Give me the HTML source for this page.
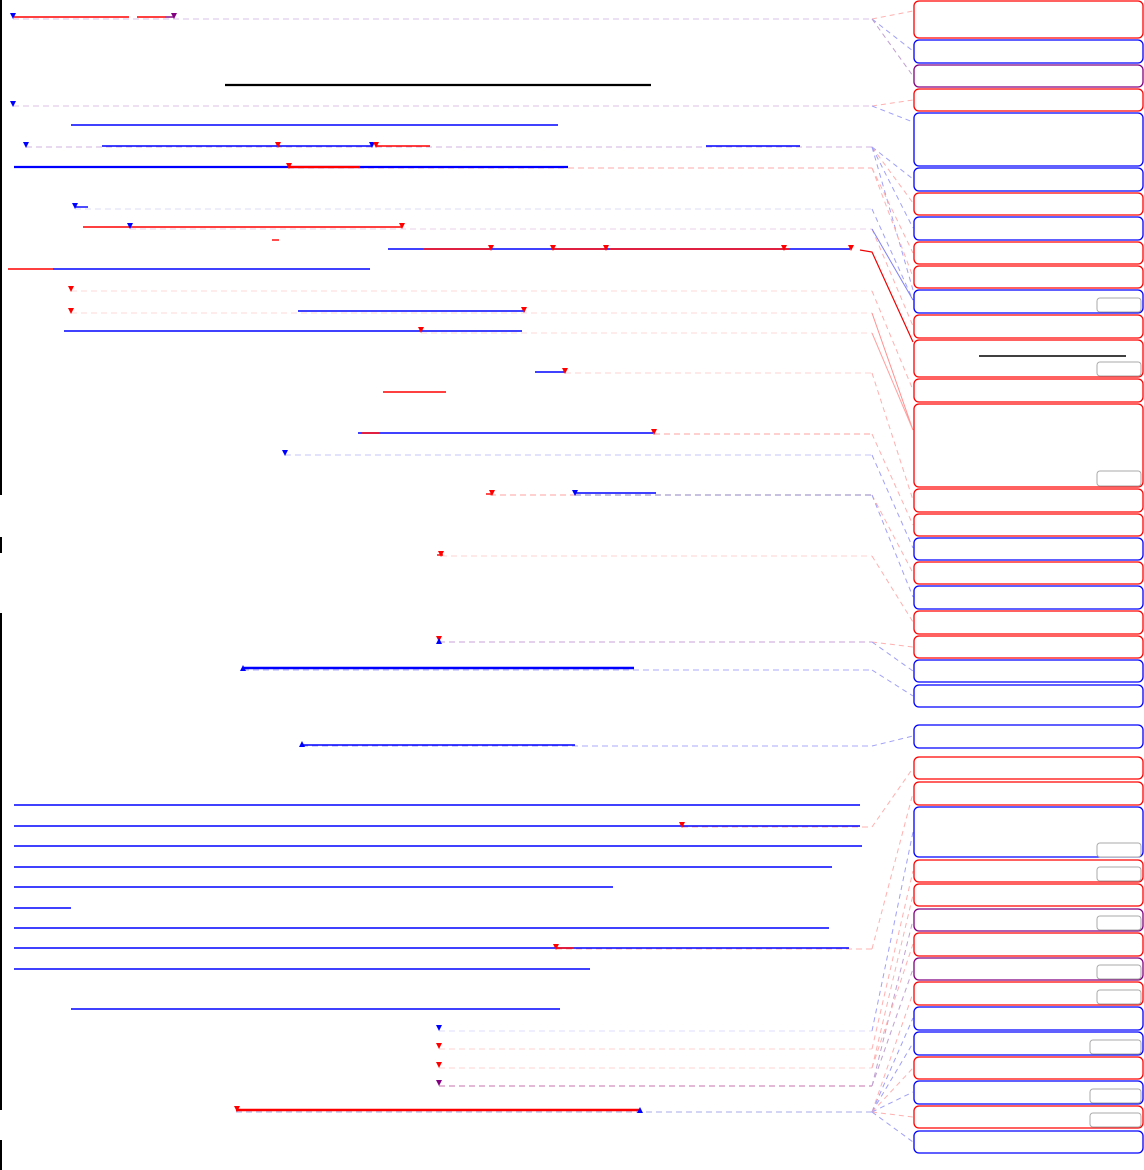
<!DOCTYPE html>
<html><head><meta charset="utf-8"><style>
html,body{margin:0;padding:0;background:#fff;}
svg{display:block;}
</style></head><body>
<svg width="1144" height="1170" viewBox="0 0 1144 1170" xmlns="http://www.w3.org/2000/svg">
<defs>
<path id="mk" d="M-3,-3 L3,-3 L0,3 Z"/>
<path id="mu" d="M-3,3 L3,3 L0,-3 Z"/>
</defs>
<g stroke="#000" stroke-width="2">
<line x1="1" y1="0" x2="1" y2="495"/><line x1="1" y1="537" x2="1" y2="553"/>
<line x1="1" y1="613" x2="1" y2="1110"/><line x1="1" y1="1140" x2="1" y2="1170"/>
</g>
<g fill="none" stroke-width="1" stroke-dasharray="6,4">
<line x1="13" y1="19" x2="872" y2="19" stroke="#d8c0e8"/>
<line x1="13" y1="106" x2="872" y2="106" stroke="#dcc0e4"/>
<line x1="26" y1="147" x2="872" y2="147" stroke="#d0b0e0"/>
<line x1="288" y1="168" x2="872" y2="168" stroke="#ffa8a8"/>
<line x1="75" y1="209" x2="872" y2="209" stroke="#dcdcf4"/>
<line x1="130" y1="229" x2="872" y2="229" stroke="#e8d0e8"/>
<line x1="71" y1="291" x2="872" y2="291" stroke="#fcd8d8"/>
<line x1="71" y1="313" x2="872" y2="313" stroke="#fcd8d8"/>
<line x1="421" y1="333" x2="872" y2="333" stroke="#fcd8d8"/>
<line x1="565" y1="373" x2="872" y2="373" stroke="#fcd0d0"/>
<line x1="654" y1="434" x2="872" y2="434" stroke="#ffa0a0"/>
<line x1="285" y1="455" x2="872" y2="455" stroke="#d8d8fc" stroke-width="1.5"/>
<line x1="490" y1="495" x2="575" y2="495" stroke="#ffa0a0"/>
<line x1="575" y1="495" x2="872" y2="495" stroke="#9080c0"/>
<line x1="441" y1="556" x2="872" y2="556" stroke="#fcd0d0"/>
<line x1="439" y1="642" x2="872" y2="642" stroke="#c8a0d8"/>
<line x1="243" y1="670" x2="872" y2="670" stroke="#a8a8f8"/>
<line x1="302" y1="746" x2="872" y2="746" stroke="#a8a8f8"/>
<line x1="682" y1="827" x2="872" y2="827" stroke="#ffb0b0"/>
<line x1="556" y1="949" x2="872" y2="949" stroke="#ffb0b0"/>
<line x1="439" y1="1031" x2="872" y2="1031" stroke="#dcdcfc"/>
<line x1="439" y1="1049" x2="872" y2="1049" stroke="#fcd0d0"/>
<line x1="439" y1="1068" x2="872" y2="1068" stroke="#fcd0d0"/>
<line x1="439" y1="1086" x2="872" y2="1086" stroke="#d8a0c8" stroke-width="1.5"/>
<line x1="236" y1="1112" x2="872" y2="1112" stroke="#a8a8e8"/>
</g>
<g fill="none" stroke-width="1" stroke-dasharray="5,4">
<path d="M872,19 L913,11" stroke="#ffb0b0"/>
<path d="M872,19 L913,51" stroke="#a0a0f8"/>
<path d="M872,19 L913,76" stroke="#c0a0d0"/>
<path d="M872,106 L913,100" stroke="#ffb0b0"/>
<path d="M872,106 L913,122" stroke="#a0a0f8"/>
<path d="M872,147 L913,179" stroke="#a0a0f8"/>
<path d="M872,147 L913,203" stroke="#ffb0b0"/>
<path d="M872,147 L913,228" stroke="#a0a0f8"/>
<path d="M872,147 L913,290" stroke="#a0a0f8"/>
<path d="M872,168 L913,253" stroke="#ffb0b0"/>
<path d="M872,168 L913,277" stroke="#ffb0b0"/>
<path d="M872,209 L913,300" stroke="#a0a0f8"/>
<path d="M872,229 L913,326" stroke="#ffb0b0"/>
<path d="M872,291 L913,390" stroke="#ffb0b0"/>
<path d="M872,373 L913,500" stroke="#ffb0b0"/>
<path d="M872,434 L913,525" stroke="#ffb0b0"/>
<path d="M872,455 L913,548" stroke="#a0a0f8"/>
<path d="M872,495 L913,573" stroke="#ffb0b0"/>
<path d="M872,495 L913,597" stroke="#a0a0f8"/>
<path d="M872,556 L913,622" stroke="#ffb0b0"/>
<path d="M872,642 L913,647" stroke="#ffb0b0"/>
<path d="M872,642 L913,671" stroke="#a0a0f8"/>
<path d="M872,670 L913,696" stroke="#a0a0f8"/>
<path d="M872,746 L913,736" stroke="#a0a0f8"/>
<path d="M872,827 L913,768" stroke="#ffb0b0"/>
<path d="M872,949 L913,793" stroke="#ffb0b0"/>
<path d="M872,1031 L913,832" stroke="#a0a0f8"/>
<path d="M872,1049 L913,871" stroke="#ffb0b0"/>
<path d="M872,1068 L913,895" stroke="#ffb0b0"/>
<path d="M872,1086 L913,920" stroke="#c0a0d0"/>
<path d="M872,1068 L913,944" stroke="#ffb0b0"/>
<path d="M872,1086 L913,969" stroke="#c0a0d0"/>
<path d="M872,1112 L913,993" stroke="#ffb0b0"/>
<path d="M872,1112 L913,1018" stroke="#a0a0f8"/>
<path d="M872,1112 L913,1043" stroke="#a0a0f8"/>
<path d="M872,1112 L913,1068" stroke="#ffb0b0"/>
<path d="M872,1112 L913,1092" stroke="#a0a0f8"/>
<path d="M872,1112 L913,1117" stroke="#ffb0b0"/>
<path d="M872,1112 L913,1142" stroke="#a0a0f8"/>
<path d="M872,313 L913,430" stroke="#ff9090" stroke-dasharray="none"/>
<path d="M872,333 L913,430" stroke="#ffa0a0" stroke-dasharray="none"/>
<path d="M872,229 L913,300" stroke="#8080f0" stroke-dasharray="none"/>
</g>
<path d="M860,250 L872,252 L913,342" fill="none" stroke="#f00000" stroke-width="1.2"/>
<g fill="none" stroke-width="1.4">
<line x1="14" y1="17" x2="129" y2="17" stroke="#f00"/>
<line x1="137" y1="17" x2="165" y2="17" stroke="#f00"/>
<line x1="165" y1="17" x2="174" y2="17" stroke="#800080"/>
<line x1="225" y1="85" x2="651" y2="85" stroke="#000" stroke-width="2.2"/>
<line x1="71" y1="125" x2="558" y2="125" stroke="#00f"/>
<line x1="102" y1="146" x2="372" y2="146" stroke="#00f"/>
<line x1="376" y1="146" x2="430" y2="146" stroke="#f00"/>
<line x1="706" y1="146" x2="800" y2="146" stroke="#00f"/>
<line x1="14" y1="167" x2="568" y2="167" stroke="#00f" stroke-width="2.2"/>
<line x1="288" y1="167" x2="360" y2="167" stroke="#f00" stroke-width="2.2"/>
<line x1="75" y1="207" x2="88" y2="207" stroke="#00f"/>
<line x1="83" y1="227" x2="402" y2="227" stroke="#f00"/>
<line x1="272" y1="240" x2="279" y2="240" stroke="#f00"/>
<line x1="388" y1="249" x2="850" y2="249" stroke="#00f"/>
<line x1="423" y1="249" x2="490" y2="249" stroke="#f00"/>
<line x1="553" y1="249" x2="606" y2="249" stroke="#f00"/>
<line x1="610" y1="249" x2="790" y2="249" stroke="#f00"/>
<line x1="8" y1="269" x2="53" y2="269" stroke="#f00"/>
<line x1="53" y1="269" x2="370" y2="269" stroke="#00f"/>
<line x1="298" y1="311" x2="525" y2="311" stroke="#00f"/>
<line x1="64" y1="331" x2="522" y2="331" stroke="#00f"/>
<line x1="535" y1="372" x2="565" y2="372" stroke="#00f"/>
<line x1="383" y1="392" x2="446" y2="392" stroke="#f00"/>
<line x1="358" y1="433" x2="653" y2="433" stroke="#00f"/>
<line x1="362" y1="433" x2="380" y2="433" stroke="#f00"/>
<line x1="575" y1="493" x2="656" y2="493" stroke="#00f"/>
<line x1="486" y1="494" x2="492" y2="494" stroke="#f00"/>
<line x1="437" y1="555" x2="443" y2="555" stroke="#f00"/>
<line x1="243" y1="668" x2="634" y2="668" stroke="#00f" stroke-width="2.4"/>
<line x1="302" y1="745" x2="575" y2="745" stroke="#00f"/>
<line x1="14" y1="805" x2="860" y2="805" stroke="#00f"/>
<line x1="14" y1="826" x2="860" y2="826" stroke="#00f"/>
<line x1="14" y1="846" x2="862" y2="846" stroke="#00f"/>
<line x1="14" y1="867" x2="832" y2="867" stroke="#00f"/>
<line x1="14" y1="887" x2="613" y2="887" stroke="#00f"/>
<line x1="14" y1="908" x2="71" y2="908" stroke="#00f"/>
<line x1="14" y1="928" x2="829" y2="928" stroke="#00f"/>
<line x1="14" y1="948" x2="849" y2="948" stroke="#00f"/>
<line x1="556" y1="948" x2="574" y2="948" stroke="#f00"/>
<line x1="14" y1="969" x2="590" y2="969" stroke="#00f"/>
<line x1="71" y1="1009" x2="560" y2="1009" stroke="#00f"/>
<line x1="236" y1="1110" x2="640" y2="1110" stroke="#f00" stroke-width="2.4"/>
</g>
<g>
<use href="#mk" x="13" y="16" fill="#00f"/><use href="#mk" x="174" y="16" fill="#800080"/>
<use href="#mk" x="13" y="104" fill="#00f"/>
<use href="#mk" x="26" y="145" fill="#00f"/><use href="#mk" x="278" y="145" fill="#f00"/>
<use href="#mk" x="372" y="145" fill="#00f"/><use href="#mk" x="376" y="145" fill="#f00"/>
<use href="#mk" x="289" y="166" fill="#f00"/>
<use href="#mk" x="75" y="206" fill="#00f"/>
<use href="#mk" x="130" y="226" fill="#00f"/><use href="#mk" x="402" y="226" fill="#f00"/>
<use href="#mk" x="491" y="248" fill="#f00"/><use href="#mk" x="553" y="248" fill="#f00"/>
<use href="#mk" x="606" y="248" fill="#f00"/><use href="#mk" x="784" y="248" fill="#f00"/>
<use href="#mk" x="851" y="248" fill="#f00"/>
<use href="#mk" x="71" y="289" fill="#f00"/><use href="#mk" x="71" y="311" fill="#f00"/>
<use href="#mk" x="524" y="310" fill="#f00"/><use href="#mk" x="421" y="330" fill="#f00"/>
<use href="#mk" x="565" y="371" fill="#f00"/><use href="#mk" x="654" y="432" fill="#f00"/>
<use href="#mk" x="285" y="453" fill="#00f"/>
<use href="#mk" x="492" y="493" fill="#f00"/><use href="#mk" x="575" y="493" fill="#00f"/>
<use href="#mk" x="441" y="554" fill="#f00"/>
<use href="#mk" x="439" y="639" fill="#f00"/><use href="#mu" x="439" y="641" fill="#00f"/>
<use href="#mu" x="243" y="668" fill="#00f"/><use href="#mu" x="302" y="744" fill="#00f"/>
<use href="#mk" x="682" y="825" fill="#f00"/><use href="#mk" x="556" y="947" fill="#f00"/>
<use href="#mk" x="439" y="1028" fill="#00f"/><use href="#mk" x="439" y="1046" fill="#f00"/>
<use href="#mk" x="439" y="1065" fill="#f00"/><use href="#mk" x="439" y="1083" fill="#800080"/>
<use href="#mk" x="237" y="1109" fill="#f00"/><use href="#mu" x="640" y="1110" fill="#00f"/>
</g>
<g fill="#fff" stroke-width="1.3">
<rect x="914" y="1" width="229" height="37" rx="5" stroke="#f00"/>
<rect x="914" y="40" width="229" height="23" rx="5" stroke="#00f"/>
<rect x="914" y="65" width="229" height="22" rx="5" stroke="#800080"/>
<rect x="914" y="89" width="229" height="22" rx="5" stroke="#f00"/>
<rect x="914" y="113" width="229" height="53" rx="5" stroke="#00f"/>
<rect x="914" y="168" width="229" height="23" rx="5" stroke="#00f"/>
<rect x="914" y="193" width="229" height="22" rx="5" stroke="#f00"/>
<rect x="914" y="217" width="229" height="23" rx="5" stroke="#00f"/>
<rect x="914" y="242" width="229" height="22" rx="5" stroke="#f00"/>
<rect x="914" y="266" width="229" height="22" rx="5" stroke="#f00"/>
<rect x="914" y="290" width="229" height="23" rx="5" stroke="#00f"/>
<rect x="914" y="315" width="229" height="23" rx="5" stroke="#f00"/>
<rect x="914" y="340" width="229" height="37" rx="5" stroke="#f00"/>
<rect x="914" y="379" width="229" height="23" rx="5" stroke="#f00"/>
<rect x="914" y="404" width="229" height="83" rx="5" stroke="#f00"/>
<rect x="914" y="489" width="229" height="23" rx="5" stroke="#f00"/>
<rect x="914" y="514" width="229" height="22" rx="5" stroke="#f00"/>
<rect x="914" y="538" width="229" height="22" rx="5" stroke="#00f"/>
<rect x="914" y="562" width="229" height="22" rx="5" stroke="#f00"/>
<rect x="914" y="586" width="229" height="23" rx="5" stroke="#00f"/>
<rect x="914" y="611" width="229" height="23" rx="5" stroke="#f00"/>
<rect x="914" y="636" width="229" height="22" rx="5" stroke="#f00"/>
<rect x="914" y="660" width="229" height="22" rx="5" stroke="#00f"/>
<rect x="914" y="685" width="229" height="22" rx="5" stroke="#00f"/>
<rect x="914" y="725" width="229" height="23" rx="5" stroke="#00f"/>
<rect x="914" y="757" width="229" height="22" rx="5" stroke="#f00"/>
<rect x="914" y="782" width="229" height="23" rx="5" stroke="#f00"/>
<rect x="914" y="807" width="229" height="50" rx="5" stroke="#00f"/>
<rect x="914" y="860" width="229" height="22" rx="5" stroke="#f00"/>
<rect x="914" y="884" width="229" height="22" rx="5" stroke="#f00"/>
<rect x="914" y="909" width="229" height="22" rx="5" stroke="#800080"/>
<rect x="914" y="933" width="229" height="23" rx="5" stroke="#f00"/>
<rect x="914" y="958" width="229" height="22" rx="5" stroke="#800080"/>
<rect x="914" y="982" width="229" height="23" rx="5" stroke="#f00"/>
<rect x="914" y="1007" width="229" height="23" rx="5" stroke="#00f"/>
<rect x="914" y="1032" width="229" height="23" rx="5" stroke="#00f"/>
<rect x="914" y="1057" width="229" height="22" rx="5" stroke="#f00"/>
<rect x="914" y="1081" width="229" height="23" rx="5" stroke="#00f"/>
<rect x="914" y="1106" width="229" height="22" rx="5" stroke="#f00"/>
<rect x="914" y="1131" width="229" height="22" rx="5" stroke="#00f"/>
</g>
<g fill="#fff" stroke="#aaa" stroke-width="1">
<rect x="1097" y="298" width="44" height="14" rx="3"/>
<rect x="1097" y="362" width="44" height="14" rx="3"/>
<rect x="1097" y="471" width="44" height="15" rx="3"/>
<rect x="1097" y="843" width="44" height="14" rx="3"/>
<rect x="1097" y="867" width="44" height="14" rx="3"/>
<rect x="1097" y="916" width="44" height="14" rx="3"/>
<rect x="1097" y="965" width="44" height="14" rx="3"/>
<rect x="1097" y="990" width="44" height="14" rx="3"/>
<rect x="1090" y="1040" width="51" height="14" rx="3"/>
<rect x="1090" y="1089" width="51" height="14" rx="3"/>
<rect x="1090" y="1113" width="51" height="14" rx="3"/>
</g>
<line x1="979" y1="356" x2="1126" y2="356" stroke="#000" stroke-width="1.4"/>
</svg>
</body></html>
